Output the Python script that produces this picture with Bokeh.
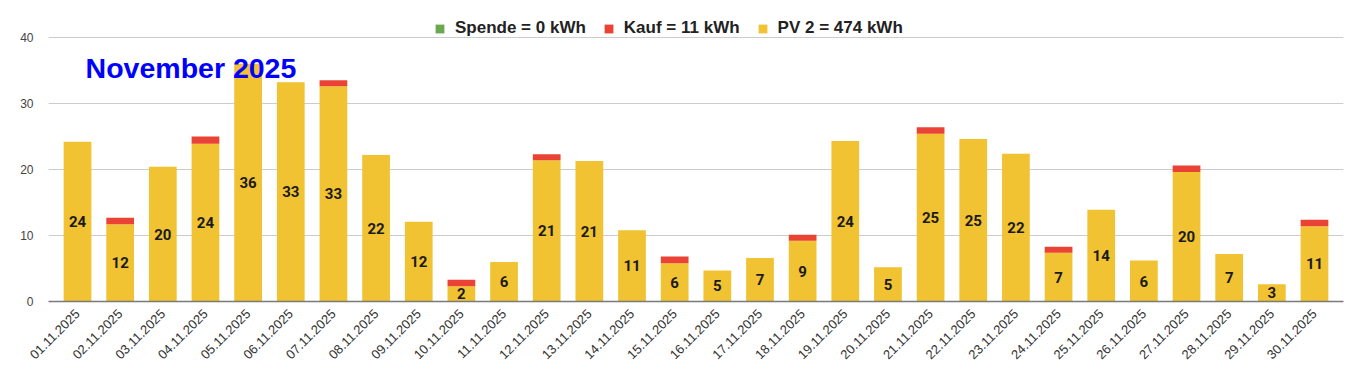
import math
from bokeh.plotting import figure
from bokeh.models import Range1d, FixedTicker, Legend, LegendItem, Label, ColumnDataSource
from bokeh.core.properties import value
from bokeh.embed import file_html
from bokeh.resources import INLINE

dates = ["01.11.2025", "02.11.2025", "03.11.2025", "04.11.2025", "05.11.2025",
         "06.11.2025", "07.11.2025", "08.11.2025", "09.11.2025", "10.11.2025",
         "11.11.2025", "12.11.2025", "13.11.2025", "14.11.2025", "15.11.2025",
         "16.11.2025", "17.11.2025", "18.11.2025", "19.11.2025", "20.11.2025",
         "21.11.2025", "22.11.2025", "23.11.2025", "24.11.2025", "25.11.2025",
         "26.11.2025", "27.11.2025", "28.11.2025", "29.11.2025", "30.11.2025"]
pv = [24.2, 11.7, 20.4, 23.9, 36.0, 33.2, 32.6, 22.2, 12.1, 2.3,
      6.0, 21.4, 21.3, 10.8, 5.8, 4.7, 6.6, 9.2, 24.3, 5.2,
      25.4, 24.6, 22.4, 7.4, 13.9, 6.2, 19.6, 7.2, 2.6, 11.4]
kauf = [0, 1.0, 0, 1.1, 0, 0, 0.9, 0, 0, 1.0,
        0, 0.9, 0, 0, 1.0, 0, 0, 0.9, 0, 0,
        1.0, 0, 0, 0.9, 0, 0, 1.0, 0, 0, 1.0]
spende = [0, 0, 0, 0, 0, 0, 0, 0, 0, 0,
          0, 0, 0, 0, 0, 0, 0, 0, 0, 0,
          0, 0, 0, 0, 0, 0, 0, 0, 0, 0]
legend_labels = ["Spende = 0 kWh", "Kauf = 11 kWh", "PV 2 = 474 kWh"]
title_text = "November 2025"
y_ticks = [0, 10, 20, 30, 40]

YELLOW = "#F1C232"
RED = "#EA4335"
GREEN = "#6AA84F"

idx = list(range(len(dates)))
src = ColumnDataSource(dict(
    x=idx, pv=pv, kauf=kauf, spende=spende,
    lab_y=[v / 2 for v in pv],
    lab=[str(round(v)) for v in pv],
))

# frame: 48..1343 px wide, 0..301 px tall (40 gridline at 37px)
p = figure(width=1351, height=366, output_backend="svg", toolbar_location=None,
           x_range=Range1d(-0.68, len(dates) - 1 + 0.68), y_range=Range1d(0, 45.6),
           min_border_left=48, min_border_right=8, min_border_top=0, min_border_bottom=65)
p.outline_line_color = None
p.background_fill_color = "white"
p.border_fill_color = "white"

rs = p.vbar_stack(["pv", "kauf", "spende"], x="x", width=0.65,
                  fill_color=[YELLOW, RED, GREEN], line_color=None, source=src)

p.text(x="x", y="lab_y", text="lab", source=src, text_align="center", text_baseline="middle",
       text_font=value("Roboto"), text_font_style="bold", text_font_size="15px", text_color="#1a1a1a")

# axes
p.xaxis.ticker = FixedTicker(ticks=idx)
p.xaxis.major_label_overrides = {i: d for i, d in zip(idx, dates)}
p.xaxis.major_label_orientation = math.pi / 4
p.xaxis.major_tick_line_color = None
p.xaxis.minor_tick_line_color = None
p.xaxis.axis_line_color = "#7a7a7a"
p.xaxis.axis_line_width = 1.5
p.xaxis.major_label_text_font = "Liberation Sans"
p.xaxis.major_label_text_font_size = "13px"
p.xaxis.major_label_text_color = "#333333"
p.xaxis.major_label_standoff = 4

p.yaxis.ticker = FixedTicker(ticks=y_ticks)
p.yaxis.axis_line_color = None
p.yaxis.major_tick_line_color = None
p.yaxis.minor_tick_line_color = None
p.yaxis.major_label_text_font = "Liberation Sans"
p.yaxis.major_label_text_font_size = "12px"
p.yaxis.major_label_text_color = "#444444"
p.yaxis.major_label_standoff = 9

p.xgrid.grid_line_color = None
p.ygrid.grid_line_color = "#cccccc"

legend = Legend(items=[LegendItem(label=legend_labels[0], renderers=[rs[2]]),
                       LegendItem(label=legend_labels[1], renderers=[rs[1]]),
                       LegendItem(label=legend_labels[2], renderers=[rs[0]])],
                orientation="horizontal", location=(386, 263))
legend.border_line_color = None
legend.background_fill_alpha = 0
legend.padding = 0
legend.margin = 0
legend.spacing = 17
legend.label_standoff = 10
legend.glyph_width = 11
legend.glyph_height = 11
legend.label_text_font = "Liberation Sans"
legend.label_text_font_style = "bold"
legend.label_text_font_size = "17px"
legend.label_text_color = "#222222"
p.add_layout(legend)

title = Label(x=0.19, y=35.3, text=title_text, text_font="Liberation Sans", text_font_style="bold",
              text_font_size="28.5px", text_color="#0000ff", text_baseline="alphabetic")
p.add_layout(title)

open("out.html", "w").write(file_html(p, INLINE))
